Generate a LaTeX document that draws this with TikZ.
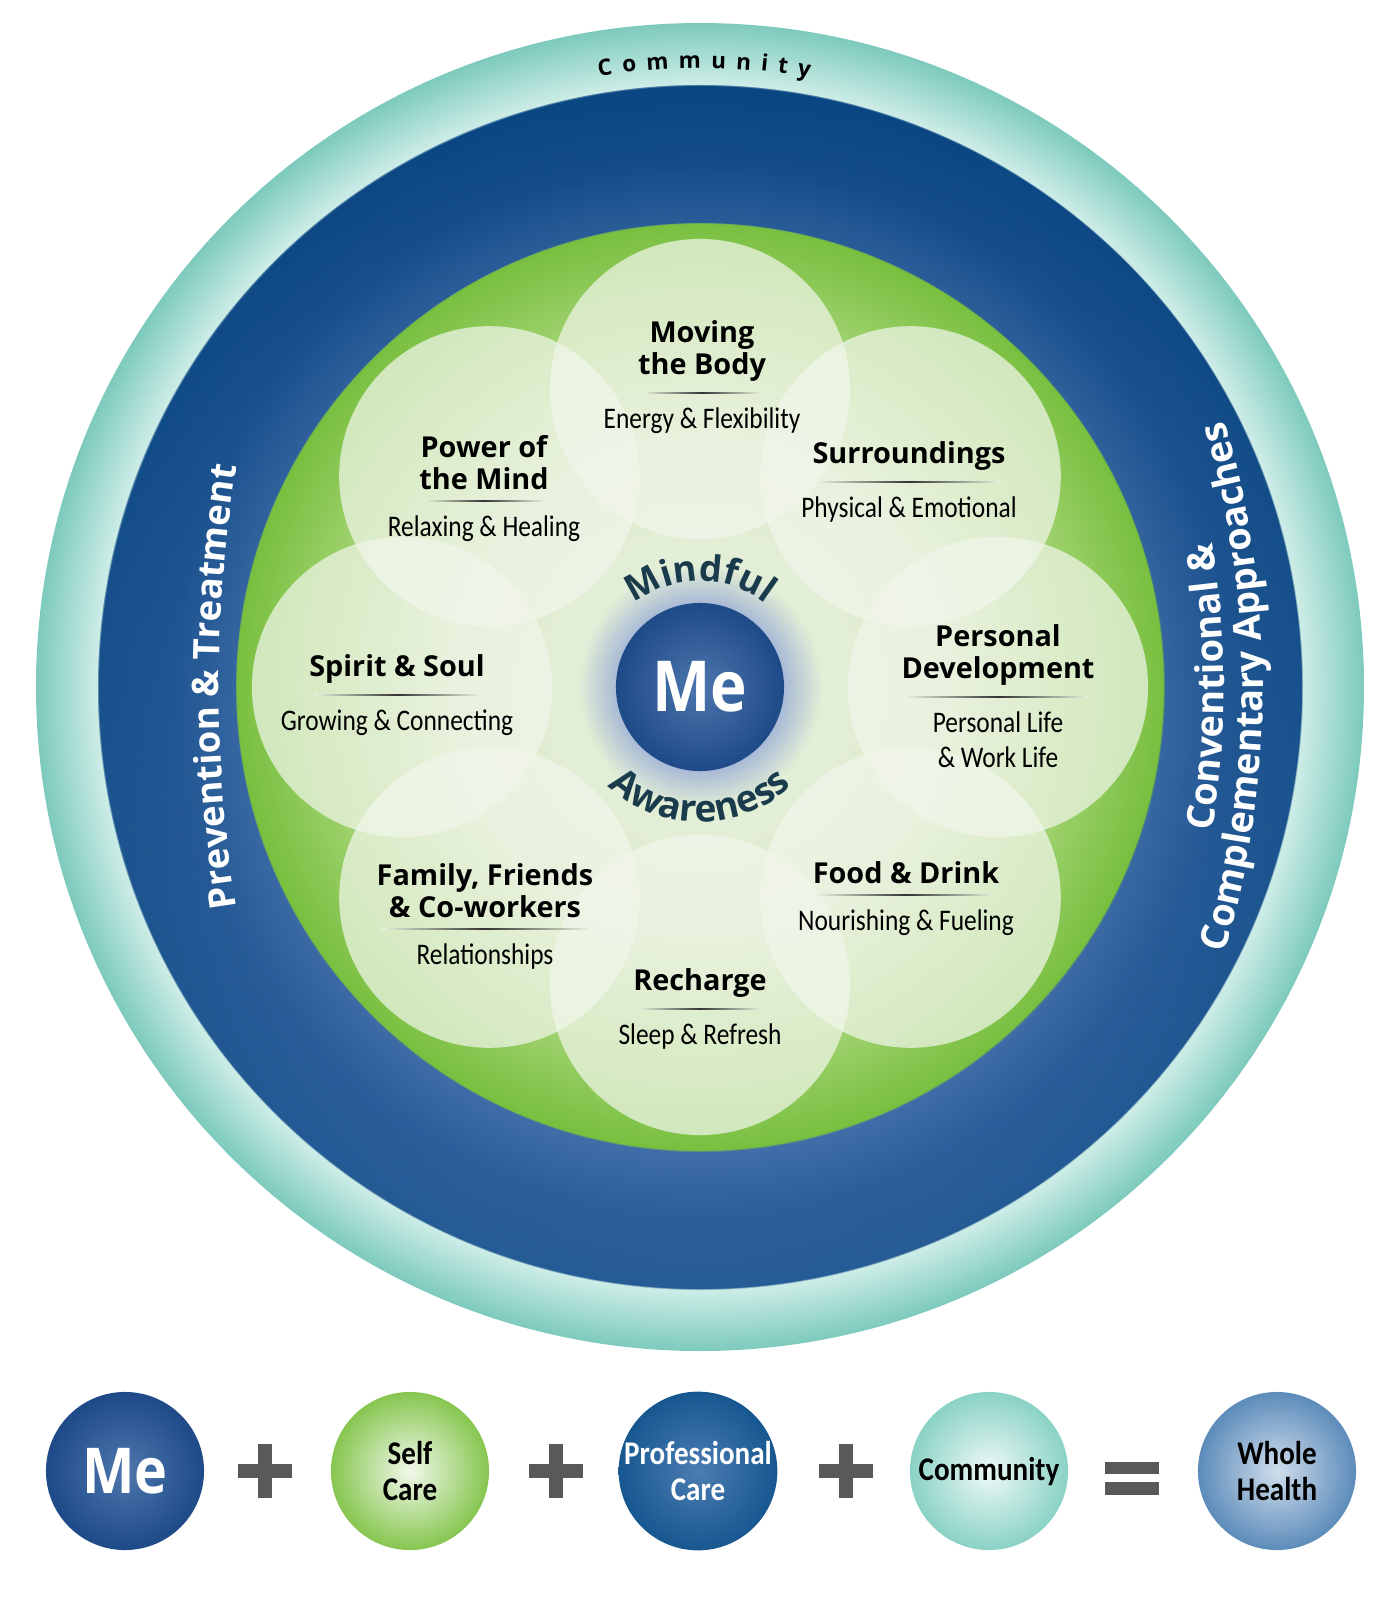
\documentclass[tikz,border=0pt]{standalone}
\usepackage{fontspec}
\setmainfont{Open Sans}
\newfontfamily\condfont[FakeStretch=0.85]{Carlito}
\newfontfamily\sumfont[FakeStretch=0.88]{Carlito}
\newfontfamily\mefont[FakeStretch=0.88]{Open Sans}
\usetikzlibrary{positioning,calc,decorations.text}

\definecolor{tealout}{HTML}{7DCABD}
\definecolor{tealin}{HTML}{CDEDE7}
\definecolor{navyout}{HTML}{0A4682}
\definecolor{navymid}{HTML}{184F8D}
\definecolor{navyin}{HTML}{3E6BA6}
\definecolor{navylite}{HTML}{4A78B0}
\definecolor{grnedge}{HTML}{78BF3F}
\definecolor{grnmid}{HTML}{9CD06A}
\definecolor{grnlight}{HTML}{D2E6BC}
\definecolor{grnpale}{HTML}{E3EED6}
\definecolor{glowblue}{HTML}{A6B8D6}
\definecolor{petalfill}{HTML}{F1F6EA}
\definecolor{sepfade}{HTML}{E6F0DA}
\definecolor{mehi}{HTML}{4D76AD}
\definecolor{melo}{HTML}{1E4A88}
\definecolor{mindcol}{HTML}{193B4C}
\definecolor{selfin}{HTML}{F1F8EA}
\definecolor{selfout}{HTML}{86C64F}
\definecolor{profin}{HTML}{4C7DB3}
\definecolor{profout}{HTML}{175790}
\definecolor{commin}{HTML}{EEF9F7}
\definecolor{commout}{HTML}{8AD2C5}
\definecolor{wholein}{HTML}{D0DDEC}
\definecolor{wholeout}{HTML}{5C8CBA}
\definecolor{signgrey}{HTML}{595959}

\pgfdeclareradialshading{wheel}{\pgfpoint{0bp}{0bp}}{%
  color(0bp)=(glowblue); color(3.1bp)=(glowblue); color(4.6bp)=(grnpale);
  color(5.8bp)=(grnpale); color(9.4bp)=(grnlight); color(14.3bp)=(grnmid);
  color(17.46bp)=(grnedge); color(17.5bp)=(navyin); color(19.8bp)=(navymid);
  color(22.64bp)=(navyout); color(22.68bp)=(tealin); color(25bp)=(tealout);
  color(50bp)=(tealout)}

\tikzset{
  petal/.style={circle, minimum size=3cm, inner sep=0pt, fill=petalfill, fill opacity=0.72},
  head/.style={align=center, inner sep=0pt, font=\bfseries\fontsize{8.2}{9.2}\selectfont},
  sub/.style={align=center, inner sep=0pt, font=\condfont\fontsize{8.5}{9.9}\selectfont},
  sepshade/.style={left color=sepfade, right color=sepfade, middle color=black!80},
  mecircle/.style={circle, minimum size=1.68cm, inner sep=0pt, inner color=mehi, outer color=melo,
    text=white, font=\mefont\bfseries\fontsize{20}{20}\selectfont},
  sumball/.style={circle, minimum size=1.58cm, inner sep=0pt, align=center,
    font=\sumfont\bfseries\fontsize{9.4}{10}\selectfont},
  ringtext/.style={decorate, decoration={text along path, text align=center, #1}},
  plussign/.pic={\fill[signgrey] (-27,-7) rectangle (27,7); \fill[signgrey] (-7,-27) rectangle (7,27);},
  equalsign/.pic={\fill[signgrey] (-27,9) rectangle (27,-3); \fill[signgrey] (-27,-11) rectangle (27,-24);}
}

\begin{document}
\begin{tikzpicture}[x=0.01cm, y=0.01cm]
\useasboundingbox (-700,-915) rectangle (700,687);
\fill[white] (-700,-915) rectangle (700,687);

% rings, green field and glow
\shade[shading=wheel] (0,0) circle[radius=664];
\shade[top color=navyout, bottom color=navylite, opacity=0.45, even odd rule]
  (0,0) circle[radius=602] (0,0) circle[radius=464];

% the eight petals
\foreach \a/\n in {90/move,45/surr,0/pers,-45/food,-90/rech,-135/fam,180/spir,135/pow}
  \node[petal] (\n) at (\a:298) {};

\foreach \n/\x/\y/\h/\s in {
  move/2/294/{Moving\\the Body}/{Energy \& Flexibility},
  surr/209/205/{Surroundings}/{Physical \& Emotional},
  pers/298/-10/{Personal\\Development}/{Personal Life\\\& Work Life},
  food/206/-208/{Food \& Drink}/{Nourishing \& Fueling},
  rech/0/-322/{Recharge}/{Sleep \& Refresh},
  fam/-215/-242/{Family, Friends\\\& Co-workers}/{Relationships},
  spir/-303/-8/{Spirit \& Soul}/{Growing \& Connecting},
  pow/-216/186/{Power of\\the Mind}/{Relaxing \& Healing}}
{
  \coordinate (\n-sep) at (\x,\y);
  \node[head, above=3pt of \n-sep] (\n-head) {\h};
  \node[sub, below=4pt of \n-sep] (\n-sub) {\s};
  \shade[sepshade] ($(\n-head.west |- \n-sep)+(6,-0.8)$) rectangle ($(\n-head.east |- \n-sep)+(-6,0.8)$);
}

% centre
\node[mecircle] (me) at (0,0) {Me};
\path[ringtext={text color=mindcol, text={|\bfseries\fontsize{10.3}{12}\selectfont|Mindful}}]
  (140:106) arc[start angle=140, end angle=40, radius=106];
\path[ringtext={text color=mindcol, text={|\bfseries\fontsize{10.6}{12}\selectfont|Awareness}}]
  (200:135) arc[start angle=200, end angle=340, radius=135];

% ring labels
\path[decorate, decoration={text along path, text align=fit to path,
    text={|\bfseries\fontsize{6.4}{7}\selectfont|Community}}]
  (99.4:619) arc[start angle=99.4, end angle=79.8, radius=619];
\path[shift={(919,0)}, ringtext={text color=white, text={|\bfseries\fontsize{10.4}{12}\selectfont|Prevention {\&} Treatment}}]
  (200:1400) arc[start angle=200, end angle=160, radius=1400];
\path[shift={(-376,0)}, ringtext={text color=white, text={|\bfseries\fontsize{10.8}{12}\selectfont|Conventional {\&}}}]
  (-25:900) arc[start angle=-25, end angle=25, radius=900];
\path[shift={(-376,0)}, ringtext={text color=white, text={|\bfseries\fontsize{10.8}{12}\selectfont|Complementary Approaches}}]
  (-25:939) arc[start angle=-25, end angle=25, radius=939];

% the sum at the bottom
\node[sumball, inner color=mehi, outer color=melo, text=white,
  font=\mefont\bfseries\fontsize{18}{18}\selectfont] (sum-me) at (-575,-784) {Me};
\node[sumball, inner color=selfin, outer color=selfout] (sum-self) at (-290,-784) {Self\\Care};
\node[sumball, inner color=profin, outer color=profout, text=white] (sum-prof) at (-2,-784) {Professional\\Care};
\node[sumball, inner color=commin, outer color=commout] (sum-comm) at (289,-784) {Community};
\node[sumball, inner color=wholein, outer color=wholeout] (sum-whole) at (577,-784) {Whole\\Health};
\pic at (-435,-784) {plussign};
\pic at (-144,-784) {plussign};
\pic at (146,-784) {plussign};
\pic at (432,-784) {equalsign};
\end{tikzpicture}
\end{document}
